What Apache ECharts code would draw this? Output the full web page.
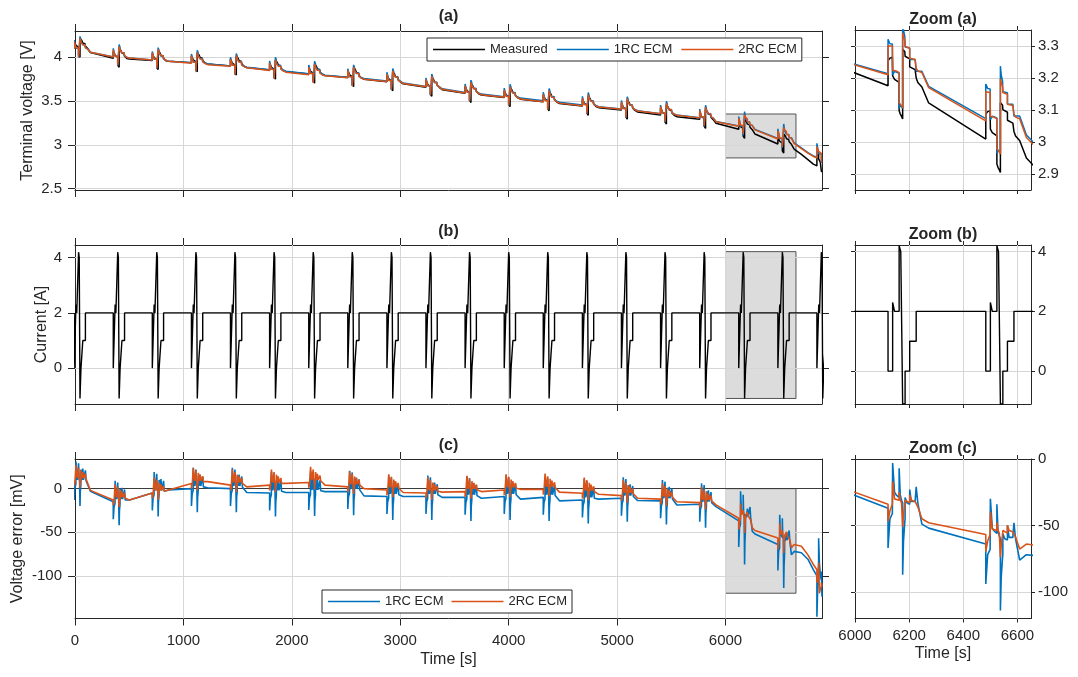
<!DOCTYPE html>
<html>
<head>
<meta charset="utf-8">
<script src="https://cdn.jsdelivr.net/npm/echarts@6/dist/echarts.min.js"></script>
</head>
<body style="margin:0;background:#fff">
<div id="main" style="width:1078px;height:677px"></div>
<script>
var FONT = 'Liberation Sans, Arial, Helvetica, sans-serif';
var INK = '#262626';
var C_MEAS = '#000000', C_1RC = '#0072BD', C_2RC = '#D95319';

// ---- data ----
// start of each pulse [s]
var pulseStart = [-8, 353, 713, 1074, 1434, 1795, 2156, 2516, 2877, 3237, 3598, 3959, 4319, 4680, 5040, 5401, 5762, 6122, 6483, 6843];
// current steps inside one pulse: offset [s] and level [A]
var stepOffset = [0, 17, 24, 41, 47, 54, 63, 80, 104];
var stepCurrent = [0, 2.3, 2.0, 4.2, 4.0, -1.1, 0, 1.0, 2.0];
var baseCurrent = 2.0;

// points inside one pulse: offset [s]
var tplOffset = [0, 0, 7, 16, 17, 17, 24, 30, 41, 41, 45, 50, 54, 54, 57, 62, 63, 63, 70, 80, 80, 86, 100, 104, 104, 110, 125];
// measured voltage rise/fall over the pulse [V], relative to the level before it
var tplMeas = [0, .078, .086, .089, .089, .031, .020, .015, .010, -.078, -.088, -.096, -.104, .114, .112, .106, .104, .092, .088, .084, .059, .055, .050, .049, .024, .010, -.004];
// error swings over the pulse [mV], relative to the level before it
var err1Early = [0, -20, -6, -2, -2, 24, 6, 3, 2, 22, 6, 2, 1, -27, -10, -3, -2, 15, 3, 1, 16, 3, 1, 1, 14, 2, 0];
var err1Late  = [0, -30, -8, -4, -4, 34, 12, 10, 8, 30, 10, 6, 4, -50, -25, -10, -8, 8, 4, 3, 14, 5, 5, 5, 16, 4, -12];
var err2Early = [0, -6, -2, 0, 0, 18, 6, 3, 2, 15, 5, 2, 1, -8, -2, 1, 1, 12, 3, 2, 10, 3, 2, 2, 8, 2, 0];
var err2Late  = [0, -13, -5, 0, 0, 17, 4, 3, 3, 9, 3, 1, 0, -17, -8, 0, 0, 3, 2, 1, 7, 3, 2, 1, 3, -2, -11];

// per pulse: measured voltage just before it and 150 s after its start [V]
var measBefore = [4.10, 3.985, 3.96, 3.935, 3.898, 3.85, 3.805, 3.765, 3.718, 3.655, 3.585, 3.538, 3.49, 3.44, 3.395, 3.34, 3.29, 3.176, 3.009];
var measKnee   = [4.05, 3.975, 3.95, 3.92, 3.879, 3.832, 3.789, 3.746, 3.693, 3.627, 3.566, 3.519, 3.47, 3.422, 3.373, 3.32, 3.244, 3.122, 2.95];
// per pulse: error before it and 150 s after its start [mV]
var err1Before = [7, -15, -5, 0, 0, -5, -4.5, -3.4, -9, -9, -10, -9, -10, -13, -11, -14, -18, -37, -64];
var err1After  = [-3, -13, -1.5, 1, -4.5, -4.5, -3.4, -8.3, -9, -10, -11, -12, -14, -12, -13.7, -18.7, -20.6, -52, -72];
var err2Before = [9, -13, -5, 6, 4, 4, 7, 2, -1.5, -5, -3.4, -1.5, -0.8, -5.3, -8, -12, -16, -34, -56.75];
var err2After  = [-2, -13, -1.5, 8, 2, 6, 4, 0, -4.5, -4, -3.4, -0.8, -4, -6.5, -11, -15, -18.7, -48, -64];

// knee of the discharge curve before the last pulse
var tailTime = [6700, 6760, 6810];
var tailMeas = [2.89, 2.83, 2.78];
var tailErr1 = [-73.5, -81, -93];
var tailErr2 = [-66, -76, -87];

// last, cut-off pulse
var endTime = [6843, 6843, 6850, 6859, 6859, 6866, 6875, 6884, 6884, 6890];
var endMeas = [2.76, 2.87, 2.89, 2.90, 2.84, 2.82, 2.80, 2.79, 2.70, 2.69];
var endErr1 = [-100, -147, -115, -105, -57, -85, -100, -105, -95, -124];
var endErr2 = [-93, -108, -100, -98, -85, -120, -115, -112, -108, -112];

// tick labels
var mainXTicks = [0, 1000, 2000, 3000, 4000, 5000, 6000];
var zoomXTicks = [6000, 6200, 6400, 6600];

// ---- build the series ----
var tArr = [], vArr = [], e1Arr = [], e2Arr = [];
function add(t, v, a, b) { tArr.push(t); vArr.push(v); e1Arr.push(a); e2Arr.push(b); }
for (var k = 0; k < measBefore.length; k++) {
    var s = pulseStart[k];
    var d1 = k >= 17 ? err1Late : err1Early;
    var d2 = k >= 17 ? err2Late : err2Early;
    for (var j = 0; j < tplOffset.length; j++) {
        add(s + tplOffset[j], measBefore[k] + tplMeas[j], err1Before[k] + d1[j], err2Before[k] + d2[j]);
    }
    add(s + 150, measKnee[k], err1After[k], err2After[k]);
}
for (var i = 0; i < tailTime.length; i++) add(tailTime[i], tailMeas[i], tailErr1[i], tailErr2[i]);
for (var i = 0; i < endTime.length; i++) add(endTime[i], endMeas[i], endErr1[i], endErr2[i]);

var measured = [], rc1 = [], rc2 = [], err1 = [], err2 = [];
for (var i = 0; i < tArr.length; i++) {
    measured.push([tArr[i], vArr[i]]);
    // error = measured - model
    rc1.push([tArr[i], vArr[i] - e1Arr[i] / 1000]);
    rc2.push([tArr[i], vArr[i] - e2Arr[i] / 1000]);
    err1.push([tArr[i], e1Arr[i]]);
    err2.push([tArr[i], e2Arr[i]]);
}

var current = [];
pulseStart.forEach(function (s) {
    current.push([s, baseCurrent]);
    var prev = baseCurrent;
    for (var j = 0; j < stepOffset.length; j++) {
        current.push([s + stepOffset[j], prev]);
        current.push([s + stepOffset[j], stepCurrent[j]]);
        prev = stepCurrent[j];
    }
});

// ---- layout ----
var grids = [
    {left: 75, top: 31, width: 747, height: 159},
    {left: 75, top: 245, width: 747, height: 159},
    {left: 75, top: 459, width: 747, height: 159.5},
    {left: 855, top: 30, width: 176, height: 160},
    {left: 855, top: 245, width: 176, height: 159},
    {left: 855, top: 459, width: 176, height: 159.5}
];

var panels = [
    {x: [0, 6890], xt: mainXTicks, y: [2.485, 4.295], yt: [2.5, 3, 3.5, 4], side: 'left', yname: 'Terminal voltage [V]', ygap: 39, tl: 7},
    {x: [0, 6890], xt: mainXTicks, y: [-1.3, 4.46], yt: [0, 2, 4], side: 'left', yname: 'Current [A]', ygap: 25, tl: 7},
    {x: [0, 6890], xt: mainXTicks, xl: true, xname: 'Time [s]', xgap: 33, y: [-149, 34], yt: [-100, -50, 0], side: 'left', yname: 'Voltage error [mV]', ygap: 49, tl: 7},
    {x: [6000, 6650], xt: zoomXTicks, y: [2.85, 3.35], yt: [2.9, 3, 3.1, 3.2, 3.3], side: 'right', tl: 4},
    {x: [6000, 6650], xt: zoomXTicks, y: [-1.1, 4.22], yt: [0, 2, 4], side: 'right', tl: 4},
    {x: [6000, 6650], xt: zoomXTicks, xl: true, xname: 'Time [s]', xgap: 27, y: [-120, 0], yt: [-100, -50, 0], side: 'right', tl: 4}
];

var nameTxt = {color: INK, fontSize: 16, fontFamily: FONT};
function fmt(v) { return '' + v; }

var xAxes = [], yAxes = [];
panels.forEach(function (p, g) {
    var main = p.side === 'left';
    ['bottom', 'top'].forEach(function (pos) {
        var primary = pos === 'bottom';
        xAxes.push({
            type: 'value', gridIndex: g, position: pos, min: p.x[0], max: p.x[1],
            axisLine: {show: true, onZero: false, lineStyle: {color: INK, width: 1}},
            axisTick: {show: true, inside: false, length: p.tl, customValues: p.xt, lineStyle: {color: INK, width: 1}},
            axisLabel: {show: primary && !!p.xl, customValues: p.xt, formatter: fmt, margin: main ? 15 : 10, color: INK, fontSize: 15, fontFamily: FONT},
            splitLine: {show: false},
            name: primary && p.xname ? p.xname : '', nameLocation: 'middle', nameGap: p.xgap, nameTextStyle: nameTxt
        });
    });
    ['left', 'right'].forEach(function (pos) {
        var labelled = pos === p.side;
        yAxes.push({
            type: 'value', gridIndex: g, position: pos, min: p.y[0], max: p.y[1],
            axisLine: {show: true, onZero: false, lineStyle: {color: INK, width: 1}},
            axisTick: {show: true, inside: false, length: p.tl, customValues: p.yt, lineStyle: {color: INK, width: 1}},
            axisLabel: {show: labelled, customValues: p.yt, formatter: fmt, margin: main ? 13 : 7, color: INK, fontSize: 15, fontFamily: FONT},
            splitLine: {show: false},
            name: labelled && p.yname ? p.yname : '', nameLocation: 'middle', nameGap: p.ygap, nameRotate: 90,
            nameMoveOverlap: false, nameTextStyle: nameTxt
        });
    });
});

// gridlines, zoom boxes and zero line, one helper series per panel
var boxes = [
    [[6000, 2.85], [6650, 3.35]],
    [[6000, -1.1], [6650, 4.22]],
    [[6000, -120], [6650, 0]]
];
var series = [];
panels.forEach(function (p, g) {
    var lines = [];
    p.xt.forEach(function (v) { if (v > p.x[0] && v < p.x[1]) lines.push({xAxis: v}); });
    p.yt.forEach(function (v) { if (v > p.y[0] && v < p.y[1]) lines.push({yAxis: v}); });
    if (g === 2) lines.push({yAxis: 0, lineStyle: {color: '#3c3c3c', width: 1.2, type: 'solid'}});
    var helper = {
        type: 'line', xAxisIndex: 2 * g, yAxisIndex: 2 * g, data: [], silent: true,
        markLine: {
            z: 1.5, silent: true, symbol: ['none', 'none'], label: {show: false}, animation: false,
            lineStyle: {color: '#d6d6d6', width: 1, type: 'solid'}, data: lines
        }
    };
    if (g < 3) {
        helper.markArea = {
            z: 1, silent: true, animation: false,
            itemStyle: {color: '#dcdcdc', borderColor: '#555555', borderWidth: 1},
            data: [[{coord: boxes[g][0]}, {coord: boxes[g][1]}]]
        };
    }
    series.push(helper);
});

function lineSeries(name, data, color, g, w) {
    return {
        name: name, type: 'line', data: data, xAxisIndex: 2 * g, yAxisIndex: 2 * g,
        symbol: 'none', showSymbol: false, clip: true, animation: false, z: 2,
        lineStyle: {color: color, width: w}, itemStyle: {color: color}
    };
}
[0, 3].forEach(function (g) {
    series.push(lineSeries('Measured', measured, C_MEAS, g, 1.5));
    series.push(lineSeries('1RC ECM', rc1, C_1RC, g, 1.5));
    series.push(lineSeries('2RC ECM', rc2, C_2RC, g, 1.5));
});
[1, 4].forEach(function (g) {
    series.push(lineSeries('Current', current, C_MEAS, g, 1.4));
});
[2, 5].forEach(function (g) {
    series.push(lineSeries('1RC ECM', err1, C_1RC, g, 1.6));
    series.push(lineSeries('2RC ECM', err2, C_2RC, g, 1.6));
});

// panel titles
var titles = [
    ['(a)', 448.5, 17], ['(b)', 448.5, 232], ['(c)', 448.5, 446],
    ['Zoom (a)', 943, 20], ['Zoom (b)', 943, 235], ['Zoom (c)', 943, 449]
];
var graphics = titles.map(function (t) {
    return {
        type: 'text', x: t[1], y: t[2], silent: true,
        style: {text: t[0], fill: INK, font: 'bold 16px ' + FONT, textAlign: 'center', textVerticalAlign: 'middle'}
    };
});

var legendBase = {
    orient: 'horizontal', icon: 'rect', itemWidth: 52, itemHeight: 1.6, itemGap: 9,
    padding: [5, 5, 5, 6], borderColor: INK, borderWidth: 1, borderRadius: 0,
    backgroundColor: '#ffffff', selectedMode: false,
    textStyle: {color: INK, fontSize: 13, fontFamily: FONT}
};

var option = {
    animation: false,
    backgroundColor: '#ffffff',
    grid: grids,
    xAxis: xAxes,
    yAxis: yAxes,
    graphic: graphics,
    legend: [
        Object.assign({}, legendBase, {data: ['Measured', '1RC ECM', '2RC ECM'], left: 427, top: 38}),
        Object.assign({}, legendBase, {data: ['1RC ECM', '2RC ECM'], left: 322, top: 590, itemGap: 8})
    ],
    series: series
};

var myChart = echarts.init(document.getElementById('main'));
myChart.setOption(option);
</script>
</body>
</html>
